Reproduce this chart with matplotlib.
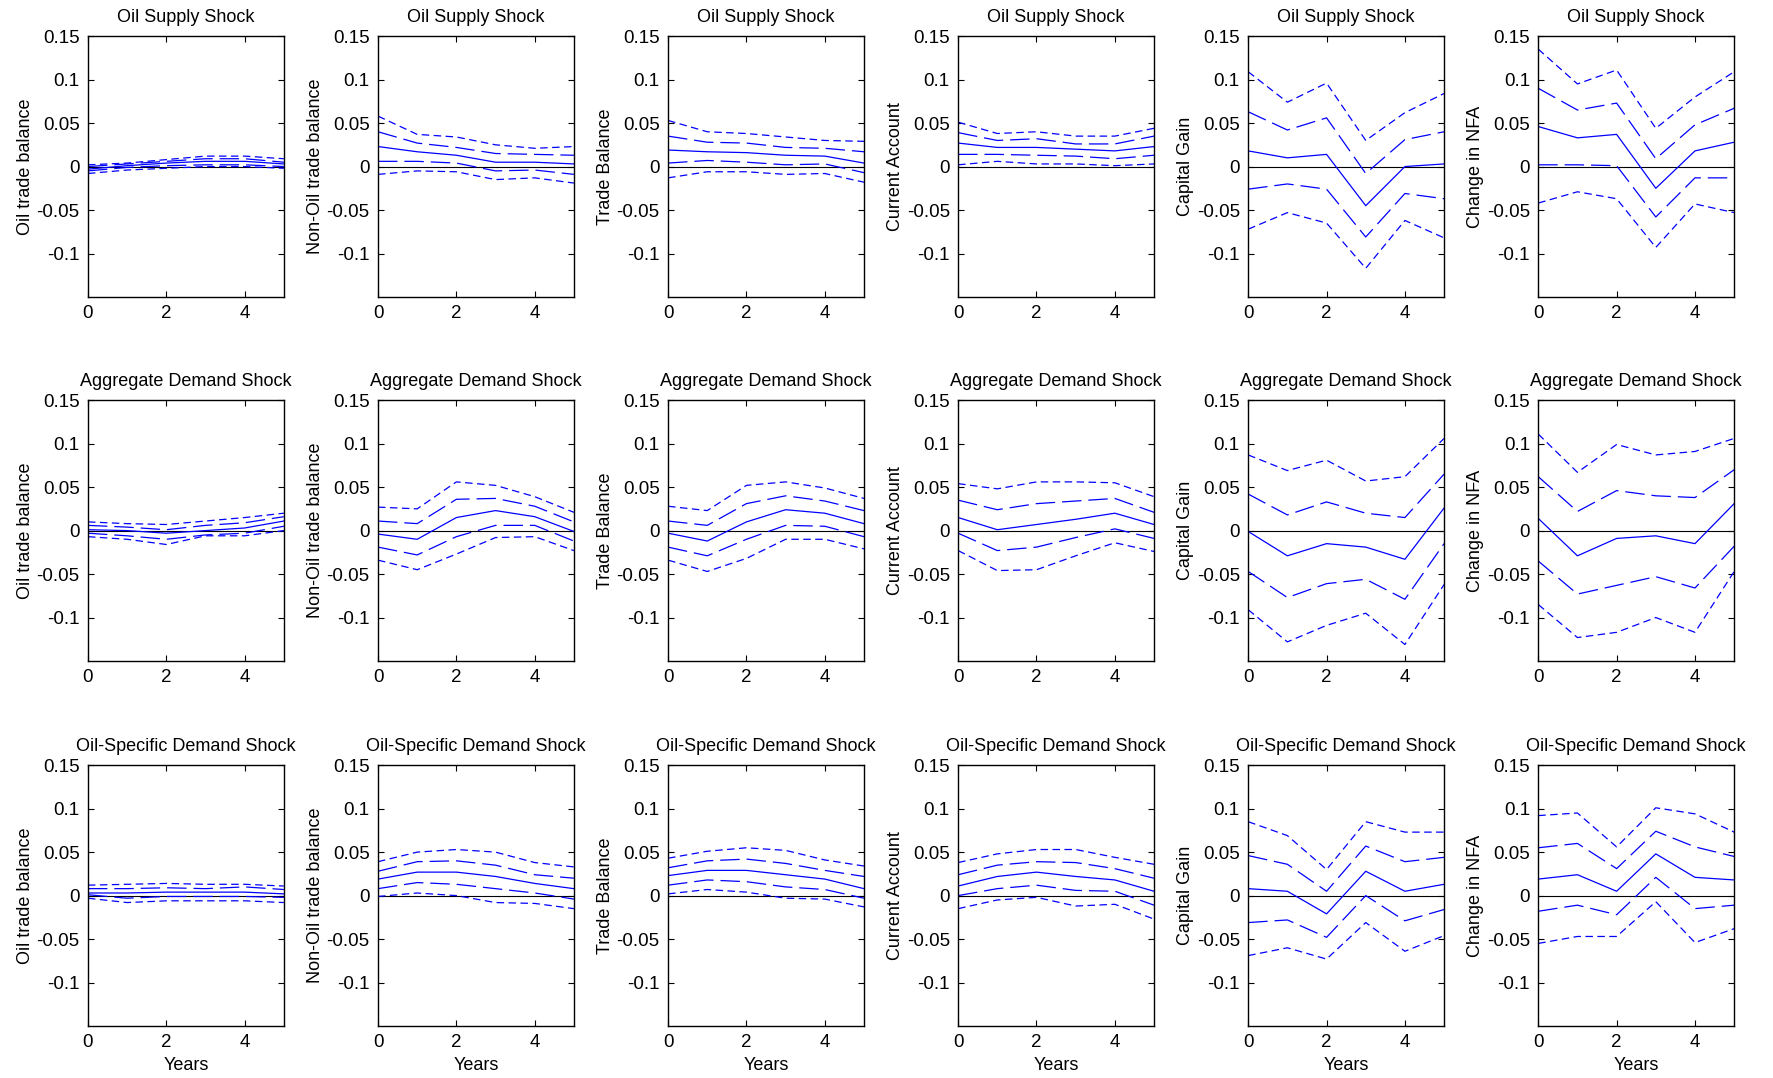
import matplotlib
matplotlib.use("Agg")
import matplotlib.pyplot as plt

plt.rcParams['font.family'] = ['Liberation Sans', 'DejaVu Sans']
plt.rcParams['lines.scale_dashes'] = False

# -----------------------
# Data (rows: upper 90%, upper 68%, median, lower 68%, lower 90%)
# -----------------------
years = [0, 1, 2, 3, 4, 5]

shocks = ["Oil Supply Shock", "Aggregate Demand Shock", "Oil-Specific Demand Shock"]
variables = ["Oil trade balance", "Non-Oil trade balance", "Trade Balance",
             "Current Account", "Capital Gain", "Change in NFA"]

# Oil supply shock
supply_oil_tb = [[0.002, 0.004, 0.008, 0.012, 0.012, 0.009],
                 [0.000, 0.003, 0.006, 0.009, 0.009, 0.005],
                 [-0.003, 0.001, 0.004, 0.006, 0.006, 0.003],
                 [-0.005, -0.001, 0.001, 0.002, 0.002, 0.000],
                 [-0.008, -0.004, -0.002, 0.000, 0.000, -0.002]]
supply_nonoil_tb = [[0.058, 0.037, 0.034, 0.025, 0.021, 0.023],
                    [0.040, 0.027, 0.022, 0.015, 0.014, 0.013],
                    [0.023, 0.017, 0.013, 0.005, 0.005, 0.003],
                    [0.006, 0.006, 0.004, -0.005, -0.004, -0.009],
                    [-0.009, -0.005, -0.006, -0.015, -0.013, -0.019]]
supply_tb = [[0.053, 0.040, 0.038, 0.034, 0.030, 0.029],
             [0.035, 0.028, 0.027, 0.022, 0.021, 0.017],
             [0.019, 0.017, 0.016, 0.013, 0.012, 0.004],
             [0.004, 0.007, 0.005, 0.002, 0.003, -0.007],
             [-0.013, -0.006, -0.006, -0.009, -0.008, -0.018]]
supply_ca = [[0.051, 0.038, 0.040, 0.035, 0.035, 0.044],
             [0.039, 0.030, 0.032, 0.026, 0.026, 0.035],
             [0.027, 0.022, 0.022, 0.020, 0.018, 0.023],
             [0.014, 0.014, 0.013, 0.012, 0.009, 0.013],
             [0.002, 0.006, 0.003, 0.003, 0.001, 0.003]]
supply_cg = [[0.109, 0.074, 0.096, 0.030, 0.062, 0.084],
             [0.063, 0.042, 0.056, -0.008, 0.031, 0.040],
             [0.018, 0.010, 0.014, -0.045, 0.000, 0.003],
             [-0.026, -0.020, -0.026, -0.081, -0.031, -0.037],
             [-0.072, -0.053, -0.065, -0.117, -0.062, -0.082]]
supply_nfa = [[0.135, 0.095, 0.111, 0.044, 0.080, 0.109],
              [0.090, 0.065, 0.073, 0.009, 0.048, 0.067],
              [0.046, 0.033, 0.037, -0.025, 0.018, 0.028],
              [0.002, 0.002, 0.001, -0.058, -0.013, -0.013],
              [-0.042, -0.029, -0.037, -0.093, -0.043, -0.053]]

# Aggregate demand shock
demand_oil_tb = [[0.010, 0.008, 0.007, 0.011, 0.015, 0.020],
                 [0.006, 0.004, 0.001, 0.006, 0.009, 0.016],
                 [0.001, 0.000, -0.003, 0.000, 0.003, 0.011],
                 [-0.003, -0.006, -0.010, -0.005, -0.003, 0.005],
                 [-0.007, -0.010, -0.016, -0.006, -0.006, 0.000]]
demand_nonoil_tb = [[0.027, 0.025, 0.056, 0.052, 0.039, 0.021],
                    [0.011, 0.008, 0.036, 0.037, 0.028, 0.010],
                    [-0.004, -0.010, 0.015, 0.023, 0.016, -0.001],
                    [-0.019, -0.028, -0.007, 0.006, 0.006, -0.012],
                    [-0.034, -0.045, -0.027, -0.008, -0.007, -0.023]]
demand_tb = [[0.028, 0.023, 0.052, 0.056, 0.049, 0.037],
             [0.011, 0.006, 0.031, 0.040, 0.034, 0.023],
             [-0.003, -0.012, 0.010, 0.024, 0.020, 0.008],
             [-0.019, -0.029, -0.010, 0.006, 0.005, -0.007],
             [-0.034, -0.047, -0.032, -0.010, -0.010, -0.021]]
demand_ca = [[0.054, 0.048, 0.056, 0.056, 0.055, 0.039],
             [0.035, 0.024, 0.031, 0.034, 0.037, 0.021],
             [0.015, 0.001, 0.007, 0.013, 0.020, 0.007],
             [-0.003, -0.023, -0.019, -0.008, 0.002, -0.009],
             [-0.023, -0.046, -0.045, -0.029, -0.014, -0.024]]
demand_cg = [[0.087, 0.069, 0.081, 0.057, 0.062, 0.106],
             [0.042, 0.018, 0.033, 0.020, 0.015, 0.065],
             [-0.001, -0.029, -0.015, -0.019, -0.033, 0.026],
             [-0.047, -0.077, -0.061, -0.056, -0.079, -0.015],
             [-0.091, -0.128, -0.109, -0.095, -0.131, -0.062]]
demand_nfa = [[0.111, 0.067, 0.099, 0.087, 0.091, 0.106],
              [0.062, 0.022, 0.046, 0.040, 0.038, 0.070],
              [0.014, -0.029, -0.009, -0.006, -0.015, 0.031],
              [-0.035, -0.073, -0.063, -0.053, -0.066, -0.018],
              [-0.085, -0.123, -0.117, -0.100, -0.117, -0.047]]

# Oil-specific demand shock
specific_oil_tb = [[0.012, 0.013, 0.014, 0.013, 0.013, 0.011],
                   [0.008, 0.008, 0.009, 0.008, 0.010, 0.007],
                   [0.003, 0.003, 0.004, 0.004, 0.004, 0.002],
                   [0.001, -0.003, -0.001, -0.001, -0.001, -0.002],
                   [-0.003, -0.008, -0.006, -0.006, -0.006, -0.008]]
specific_nonoil_tb = [[0.039, 0.050, 0.053, 0.050, 0.038, 0.033],
                      [0.028, 0.039, 0.040, 0.035, 0.024, 0.020],
                      [0.019, 0.027, 0.027, 0.022, 0.014, 0.008],
                      [0.008, 0.015, 0.013, 0.008, 0.003, -0.004],
                      [-0.001, 0.003, 0.000, -0.008, -0.009, -0.015]]
specific_tb = [[0.043, 0.051, 0.055, 0.052, 0.041, 0.034],
               [0.032, 0.040, 0.042, 0.037, 0.029, 0.022],
               [0.023, 0.029, 0.029, 0.024, 0.019, 0.008],
               [0.012, 0.018, 0.016, 0.010, 0.007, -0.003],
               [0.002, 0.007, 0.004, -0.003, -0.004, -0.013]]
specific_ca = [[0.038, 0.048, 0.053, 0.053, 0.044, 0.036],
               [0.024, 0.035, 0.039, 0.038, 0.031, 0.020],
               [0.011, 0.022, 0.027, 0.022, 0.018, 0.005],
               [0.000, 0.008, 0.012, 0.006, 0.005, -0.011],
               [-0.015, -0.005, -0.002, -0.012, -0.010, -0.027]]
specific_cg = [[0.085, 0.069, 0.030, 0.085, 0.073, 0.073],
               [0.046, 0.036, 0.005, 0.057, 0.039, 0.044],
               [0.008, 0.005, -0.021, 0.028, 0.005, 0.013],
               [-0.031, -0.028, -0.048, 0.000, -0.029, -0.016],
               [-0.069, -0.060, -0.073, -0.031, -0.064, -0.046]]
specific_nfa = [[0.092, 0.095, 0.056, 0.101, 0.094, 0.073],
                [0.055, 0.060, 0.031, 0.074, 0.056, 0.045],
                [0.019, 0.024, 0.005, 0.048, 0.021, 0.018],
                [-0.018, -0.011, -0.022, 0.021, -0.015, -0.011],
                [-0.055, -0.047, -0.047, -0.007, -0.054, -0.038]]

paneles = [
    [supply_oil_tb, supply_nonoil_tb, supply_tb, supply_ca, supply_cg, supply_nfa],
    [demand_oil_tb, demand_nonoil_tb, demand_tb, demand_ca, demand_cg, demand_nfa],
    [specific_oil_tb, specific_nonoil_tb, specific_tb, specific_ca, specific_cg, specific_nfa],
]

# -----------------------
# Figure
# -----------------------
fig = plt.figure(figsize=(17.73, 10.78), dpi=100)

left0 = 0.0496
col_step = 0.1636
ax_w = 0.1105
ax_h = 0.242
row_bottoms = [0.7245, 0.3868, 0.0482]

estilos = [(0, (5.4, 3.2)), (0, (14, 5)), '-', (0, (14, 5)), (0, (5.4, 3.2))]

for i, shock in enumerate(shocks):
    for j, var in enumerate(variables):
        ax = fig.add_axes([left0 + j * col_step, row_bottoms[i], ax_w, ax_h])
        ax.axhline(0, color='black', lw=0.8, zorder=1)
        for serie, ls in zip(paneles[i][j], estilos):
            ax.plot(years, serie, color='blue', lw=0.9, linestyle=ls, zorder=2)
        ax.set_xlim(0, 5)
        ax.set_ylim(-0.15, 0.15)
        ax.set_xticks([0, 2, 4])
        ax.set_yticks([-0.1, -0.05, 0, 0.05, 0.1, 0.15])
        ax.set_yticklabels(['-0.1', '-0.05', '0', '0.05', '0.1', '0.15'])
        ax.tick_params(direction='in', top=True, right=True, labelsize=13.5,
                       length=4, width=0.8, pad=6)
        for sp in ax.spines.values():
            sp.set_linewidth(1.0)
        ax.set_title(shock, fontsize=13, pad=10)
        ax.set_ylabel(var, fontsize=13, labelpad=2)
        if i == 2:
            ax.set_xlabel("Years", fontsize=13, labelpad=4)

fig.savefig("out.png", dpi=100)
